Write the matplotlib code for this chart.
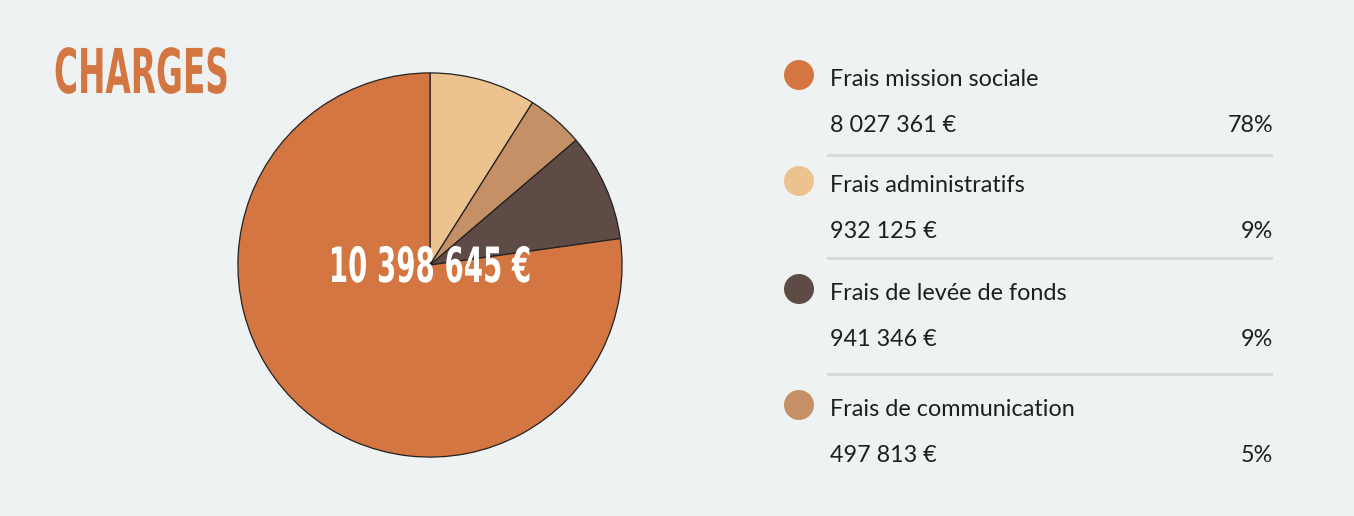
import matplotlib
matplotlib.use("Agg")
import matplotlib.pyplot as plt
from matplotlib.patches import Circle
from matplotlib.lines import Line2D
from matplotlib.patheffects import AbstractPathEffect
from matplotlib.transforms import Affine2D

# ---- data (legend order) ----
categories = ["Frais mission sociale", "Frais administratifs",
              "Frais de levée de fonds", "Frais de communication"]
values = [8027361, 932125, 941346, 497813]
value_labels = ["8 027 361 €", "932 125 €", "941 346 €", "497 813 €"]
pct_labels = ["78%", "9%", "9%", "5%"]
colors = ["#d47641", "#ecc28e", "#5f4b45", "#c59065"]
# pie drawing order (clockwise from top)
pie_order = [1, 3, 2, 0]
title = "CHARGES"
total_label = "10 398 645 €"

W, H = 1354, 516
fig = plt.figure(figsize=(W / 100, H / 100), dpi=100)
fig.patch.set_facecolor("#eef2f2")


def fx(px):
    return px / W


def fy(py):
    return 1 - py / H


class HScale(AbstractPathEffect):
    """Condense text horizontally around a fixed pixel x (display coords)."""

    def __init__(self, sx, x0):
        super().__init__()
        self.sx = sx
        self.x0 = x0

    def draw_path(self, renderer, gc, tpath, affine, rgbFace=None):
        t = affine + Affine2D().translate(-self.x0, 0).scale(self.sx, 1).translate(self.x0, 0)
        renderer.draw_path(gc, tpath, t, rgbFace)


# ---- pie ----
cx, cy, r = 430, 265, 194
ax = fig.add_axes([fx(cx - r), fy(cy + r), 2 * r / W, 2 * r / H])
ax.pie([values[i] for i in pie_order], colors=[colors[i] for i in pie_order],
       startangle=90, counterclock=False, radius=1,
       wedgeprops=dict(edgecolor="#222222", linewidth=0.9))
ax.set_xlim(-1.01, 1.01)
ax.set_ylim(-1.01, 1.01)
ax.set_aspect("equal")
ax.axis("off")

fig.text(fx(430), fy(268), total_label, color="white", fontsize=35,
         fontweight="bold", family="DejaVu Sans",
         ha="center", va="center", path_effects=[HScale(0.57, 430)])

fig.text(fx(54), fy(93), title, color="#d47641", fontsize=44.5,
         fontweight="bold", family="DejaVu Sans",
         ha="left", va="baseline", path_effects=[HScale(0.53, 54)])

# ---- legend ----
label_y = [79, 185, 293, 409]
value_y = [126, 231, 339, 455]
sep_y = [155, 258, 374]
font = "Lato"
for i in range(len(categories)):
    fig.add_artist(Circle((799 / 100, (H - label_y[i] + 4) / 100), radius=0.15,
                          transform=fig.dpi_scale_trans, facecolor=colors[i],
                          edgecolor="none"))
    fig.text(fx(830), fy(label_y[i]), categories[i], fontsize=16.8, family=font,
             color="#1e1e1e", ha="left", va="center")
    fig.text(fx(830), fy(value_y[i]), value_labels[i], fontsize=16.8, family=font,
             color="#1e1e1e", ha="left", va="center")
    fig.text(fx(1273), fy(value_y[i]), pct_labels[i], fontsize=16.8, family=font,
             color="#1e1e1e", ha="right", va="center")
for y in sep_y:
    fig.add_artist(Line2D([fx(828), fx(1271)], [fy(y), fy(y)], color="#d3d8d9",
                          linewidth=2, transform=fig.transFigure))

fig.savefig("out.png", dpi=100, facecolor=fig.get_facecolor())
